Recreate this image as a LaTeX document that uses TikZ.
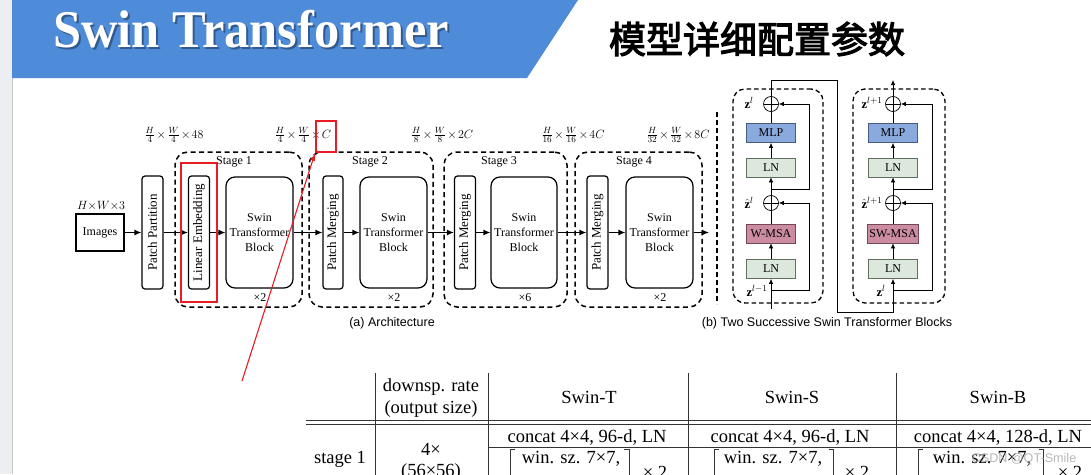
\documentclass[tikz,border=0pt]{standalone}
\usepackage{graphicx}
\usepackage{fontspec}
\setmainfont{Liberation Serif}
\newfontfamily\sansf{Liberation Sans}
\newfontfamily\cjkf[FakeBold=3]{Noto Sans CJK SC}
\usetikzlibrary{arrows.meta}
\definecolor{bannerblue}{RGB}{78,139,216}
\definecolor{mlpblue}{RGB}{138,170,222}
\definecolor{mlpedge}{RGB}{72,92,130}
\definecolor{lnfill}{RGB}{221,232,221}
\definecolor{lnedge}{RGB}{95,110,95}
\definecolor{msafill}{RGB}{204,140,162}
\definecolor{msaedge}{RGB}{115,70,88}
\definecolor{redmark}{RGB}{232,28,36}
\definecolor{stripe}{RGB}{236,238,242}
\begin{document}
\begin{tikzpicture}[x=1pt,y=-1pt,
  archbox/.style={draw, line width=1.2pt, rounded corners=3pt, inner sep=0pt, minimum width=21pt, minimum height=113pt, font=\fontsize{13}{15}\selectfont},
  imgbox/.style={draw, line width=1.2pt, inner sep=0pt, minimum width=48pt, minimum height=37pt, font=\fontsize{12}{14}\selectfont},
  stbbox/.style={draw, line width=1.2pt, rounded corners=9pt, inner sep=0pt, minimum width=67pt, minimum height=111pt, align=center, font=\fontsize{12}{15}\selectfont},
  stagebox/.style={draw, line width=1.5pt, dash pattern=on 5pt off 3.5pt, rounded corners=13pt, minimum height=155pt, inner sep=0pt},
  arr/.style={line width=1.2pt, -{Latex[length=7pt,width=6pt]}},
  lbl/.style={font=\fontsize{12}{14}\selectfont, inner sep=0pt},
  mathlbl/.style={font=\fontsize{12.5}{14}\selectfont, execute at begin node={\medmuskip=2mu\relax}, inner sep=0pt},
  captxt/.style={font=\sansf\fontsize{12.5}{14}\selectfont, inner sep=0pt},
  redbox/.style={draw=redmark, line width=1.8pt, inner sep=0pt},
  blk/.style={draw, line width=0.7pt, minimum width=49pt, minimum height=19pt, inner sep=0pt, font=\fontsize{12}{14}\selectfont},
  mlpbox/.style={blk, fill=mlpblue, draw=mlpedge},
  lnbox/.style={blk, fill=lnfill, draw=lnedge},
  msabox/.style={blk, fill=msafill, draw=msaedge},
  oplus/.style={circle, draw, line width=0.7pt, minimum size=15pt, inner sep=0pt,
    path picture={\draw[line width=0.7pt] (path picture bounding box.north) -- (path picture bounding box.south) (path picture bounding box.west) -- (path picture bounding box.east);}},
  thinln/.style={line width=0.7pt},
  sarr/.style={line width=0.7pt, -{Latex[length=5pt,width=4.5pt]}},
  zlbl/.style={font=\fontsize{12.5}{14}\selectfont, inner sep=0pt},
  bdash/.style={draw, line width=1.3pt, dash pattern=on 4.5pt off 3pt, rounded corners=12pt, inner sep=0pt},
  tabtxt/.style={font=\fontsize{18.5}{22}\selectfont, inner sep=0pt},
  tabrule/.style={line width=0.8pt, black!80}
]
\useasboundingbox (0,0) rectangle (1091,474);
\clip (0,0) rectangle (1091,474);
\fill[white] (0,0) rectangle (1091,474);
% left stripe and banner
\fill[stripe] (0,0) rectangle (12,474);
\draw[gray!45, line width=0.8pt] (12,78) -- (12,474);
\fill[bannerblue] (12,0) -- (578,0) -- (527,78) -- (12,78) -- cycle;
\node[anchor=base west, text=black!70!bannerblue, opacity=0.5, font=\fontsize{53}{53}\selectfont\bfseries, inner sep=0pt] (titleshadow) at (55,49) {\scalebox{0.952}[1]{Swin Transformer}};
\node[anchor=base west, text=white, font=\fontsize{53}{53}\selectfont\bfseries, inner sep=0pt] (title) at (53,47) {\scalebox{0.952}[1]{Swin Transformer}};
\node[font=\cjkf\fontsize{37}{40}\selectfont, inner sep=0pt] (cntitle) at (757,39) {模型详细配置参数};

% ---------- (a) Architecture ----------
\node[mathlbl] (hw3) at (101,206) {$H{\times}W{\times}3$};
\node[imgbox] (img) at (100,232.5) {Images};
\node[archbox] (pp) at (152.5,232.5) {\rotatebox{90}{Patch Partition}};

\node[stagebox, minimum width=127pt] (st1) at (238.5,229.5) {};
\node[archbox] (le) at (199,232.5) {\rotatebox{90}{Linear Embedding}};
\node[stbbox] (stb1) at (259.5,232.5) {Swin\\Transformer\\Block};

\node[stagebox, minimum width=124pt] (st2) at (371,229.5) {};
\node[archbox, minimum width=20pt] (pm2) at (333,232.5) {\rotatebox{90}{Patch Merging}};
\node[stbbox] (stb2) at (393.5,232.5) {Swin\\Transformer\\Block};

\node[stagebox, minimum width=123pt] (st3) at (505.5,229.5) {};
\node[archbox] (pm3) at (465,232.5) {\rotatebox{90}{Patch Merging}};
\node[stbbox, minimum width=66pt] (stb3) at (524,232.5) {Swin\\Transformer\\Block};

\node[stagebox, minimum width=127pt] (st4) at (638.5,229.5) {};
\node[archbox] (pm4) at (597.5,232.5) {\rotatebox{90}{Patch Merging}};
\node[stbbox] (stb4) at (659.5,232.5) {Swin\\Transformer\\Block};
\coordinate (aout) at (709,232.5);

\node[lbl] (s1) at (234,162) {Stage 1};
\node[lbl] (s2) at (370,162) {Stage 2};
\node[lbl] (s3) at (499,162) {Stage 3};
\node[lbl] (s4) at (634,162) {Stage 4};
\node[lbl] (r1) at (260,298) {×2};
\node[lbl] (r2) at (394,298) {×2};
\node[lbl] (r3) at (525,298) {×6};
\node[lbl] (r4) at (660,298) {×2};

\node[mathlbl] (d0) at (174,135) {$\frac{H}{4}\times\frac{W}{4}\times 48$};
\node[mathlbl] (d1) at (303,135) {$\frac{H}{4}\times\frac{W}{4}\times C$};
\node[mathlbl] (d2) at (442,135) {$\frac{H}{8}\times\frac{W}{8}\times 2C$};
\node[mathlbl] (d3) at (573,135) {$\frac{H}{16}\times\frac{W}{16}\times 4C$};
\node[mathlbl] (d4) at (678,135) {$\frac{H}{32}\times\frac{W}{32}\times 8C$};

\draw[arr] (img) -- (pp);
\draw[arr] (pp) -- (le);
\draw[arr] (le) -- (stb1);
\draw[arr] (stb1) -- (pm2);
\draw[arr] (pm2) -- (stb2);
\draw[arr] (stb2) -- (pm3);
\draw[arr] (pm3) -- (stb3);
\draw[arr] (stb3) -- (pm4);
\draw[arr] (pm4) -- (stb4);
\draw[arr] (stb4) -- (aout);

\node[captxt] (capa) at (392,323) {(a) Architecture};

% red annotations
\node[redbox, minimum width=36pt, minimum height=139pt] (redle) at (199,232.5) {};
\node[redbox, minimum width=20pt, minimum height=31pt] (redc) at (326,136.5) {};
\coordinate (redtail) at (242,381);
\draw[redmark, line width=1.1pt, -{Latex[length=8pt,width=5pt]}] (redtail) -- (redc.south west);

% separator
\draw[line width=2pt, dash pattern=on 5pt off 3pt] (717,112) -- (717,304);

% ---------- (b) blocks ----------
\node[bdash, minimum width=90pt, minimum height=214pt] (bl) at (778,196) {};
\node[oplus] (c1) at (771,104) {};
\node[mlpbox] (mlp1) at (771,133) {MLP};
\node[lnbox] (ln1) at (771,167.5) {LN};
\node[oplus] (c2) at (771,203) {};
\node[msabox] (msa1) at (771,233.5) {W-MSA};
\node[lnbox] (ln2) at (771,269) {LN};
\coordinate (in1) at (771,309);
\coordinate (b1) at (771,290);
\coordinate (b2) at (771,189);
\draw[sarr] (in1) -- (ln2);
\draw[sarr] (ln2) -- (msa1);
\draw[thinln] (msa1) -- (c2);
\draw[sarr] (c2) -- (ln1);
\draw[sarr] (ln1) -- (mlp1);
\draw[thinln] (mlp1) -- (c1);
\draw[sarr] (b1) -- ++(38,0) |- (c2.east);
\draw[sarr] (b2) -- ++(38,0) |- (c1.east);

\node[bdash, minimum width=92pt, minimum height=214pt] (br) at (899,196) {};
\node[oplus] (c3) at (893,104) {};
\node[mlpbox] (mlp2) at (893,133) {MLP};
\node[lnbox] (ln3) at (893,167.5) {LN};
\node[oplus] (c4) at (893,203) {};
\node[msabox, minimum width=51pt] (msa2) at (893,233.5) {SW-MSA};
\node[lnbox] (ln4) at (893,269) {LN};
\coordinate (b3) at (893,290);
\coordinate (b4) at (893,189);
\coordinate (jtop) at (837,80);
\coordinate (jbot) at (837,312);
\coordinate (outr) at (893,80);
\draw[sarr] (c1.north) |- (jtop) -- (jbot) -| (ln4);
\draw[sarr] (ln4) -- (msa2);
\draw[thinln] (msa2) -- (c4);
\draw[sarr] (c4) -- (ln3);
\draw[sarr] (ln3) -- (mlp2);
\draw[thinln] (mlp2) -- (c3);
\draw[sarr] (b3) -- ++(39,0) |- (c4.east);
\draw[sarr] (b4) -- ++(39,0) |- (c3.east);
\draw[sarr] (c3) -- (outr);

\node[zlbl] (z1) at (749,103) {$\mathbf{z}^{l}$};
\node[zlbl] (z2) at (749,203) {$\hat{\mathbf{z}}^{l}$};
\node[zlbl] (z3) at (757,291) {$\mathbf{z}^{l-1}$};
\node[zlbl] (z4) at (872,103) {$\mathbf{z}^{l+1}$};
\node[zlbl] (z5) at (872,203) {$\hat{\mathbf{z}}^{l+1}$};
\node[zlbl] (z6) at (881,291) {$\mathbf{z}^{l}$};

\node[captxt] (capb) at (827,323) {(b) Two Successive Swin Transformer Blocks};

% ---------- table ----------
\draw[tabrule] (375,373) -- (375,480);
\draw[tabrule] (488,373) -- (488,480);
\draw[tabrule] (688,373) -- (688,480);
\draw[tabrule] (896,373) -- (896,480);
\draw[tabrule] (306,420) -- (1091,420);
\draw[tabrule] (306,424.5) -- (1091,424.5);
\draw[tabrule] (488,447.5) -- (1091,447.5);

\node[tabtxt] (h1) at (431,387) {downsp. rate};
\node[tabtxt] (h2) at (431,409) {(output size)};
\node[tabtxt] (h3) at (589,397) {Swin-T};
\node[tabtxt] (h4) at (792,397) {Swin-S};
\node[tabtxt] (h5) at (998,397) {Swin-B};

\node[tabtxt] (st) at (340,459) {stage 1};
\node[tabtxt] (rate) at (431,449) {4×};
\node[tabtxt] (osz) at (431,472) {(56×56)};
\node[tabtxt] (cT) at (587,437) {concat 4×4, 96-d, LN};
\node[tabtxt] (cS) at (790,437) {concat 4×4, 96-d, LN};
\node[tabtxt] (cB) at (998,437) {concat 4×4, 128-d, LN};

\draw[tabrule] (515,449.5) -- (510.5,449.5) -- (510.5,480);
\draw[tabrule] (624,449.5) -- (629,449.5) -- (629,480);
\draw[tabrule] (718.5,449.5) -- (714,449.5) -- (714,480);
\draw[tabrule] (828.5,449.5) -- (833,449.5) -- (833,480);
\draw[tabrule] (922.5,449.5) -- (918,449.5) -- (918,480);
\draw[tabrule] (1038.5,449.5) -- (1043,449.5) -- (1043,480);
\node[tabtxt] (wT) at (571,459) {win. sz. 7×7,};
\node[tabtxt] (wS) at (773,459) {win. sz. 7×7,};
\node[tabtxt] (wB) at (982,459) {win. sz. 7×7,};
\node[tabtxt] (xT) at (655,472) {× 2};
\node[tabtxt] (xS) at (857,472) {× 2};
\node[tabtxt] (xB) at (1070,472) {× 2};

\node[font=\sansf\fontsize{12.6}{14}\selectfont, text=gray!70, opacity=0.8, inner sep=0pt] (wm) at (1024,459) {CSDN @QT-Smile};
\end{tikzpicture}
\end{document}
